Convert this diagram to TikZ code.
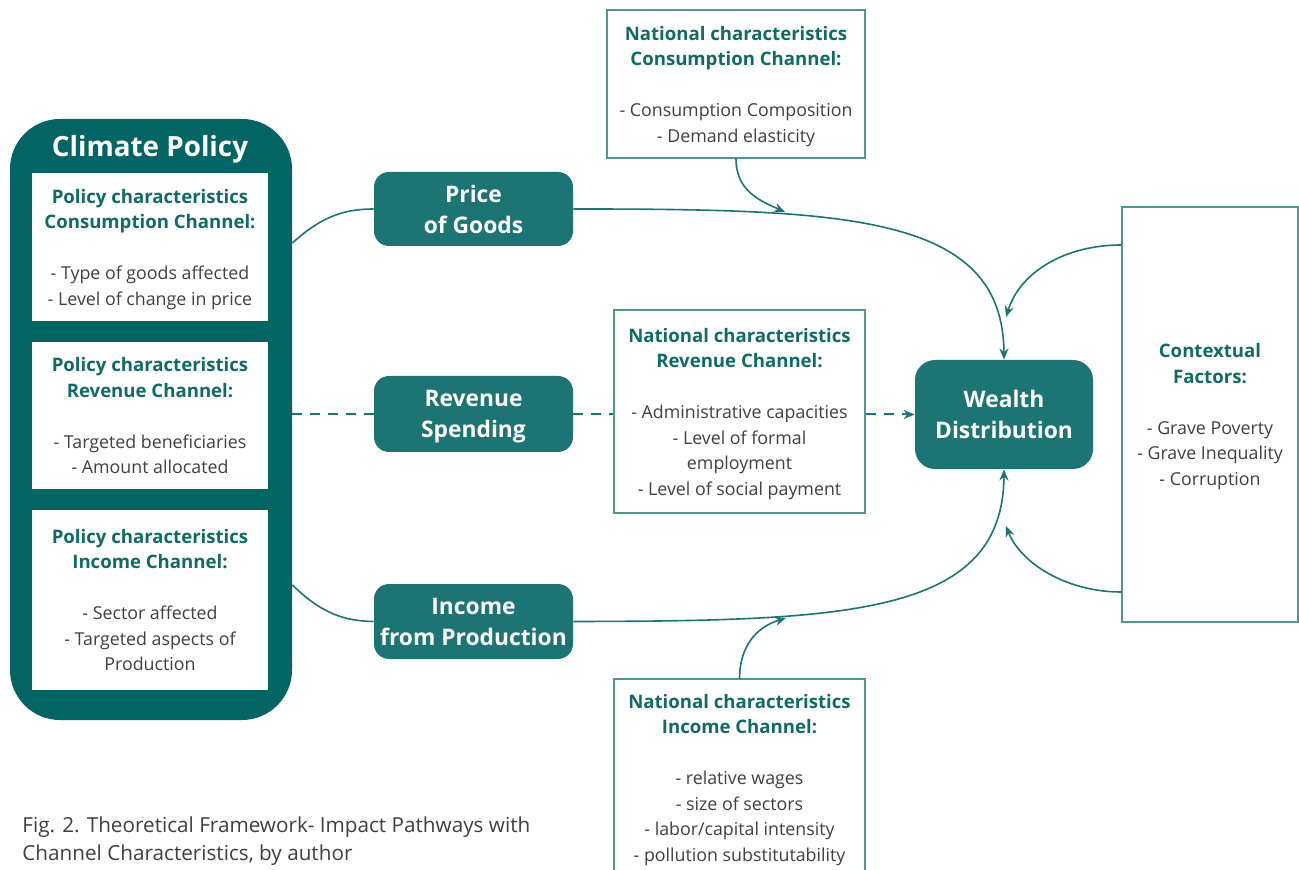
\documentclass[tikz,border=0pt]{standalone}
\usepackage{fontspec}
\setmainfont{Open Sans}
\usetikzlibrary{arrows.meta,calc}
\definecolor{dteal}{RGB}{2,101,99}
\definecolor{mteal}{RGB}{28,117,114}
\definecolor{hteal}{RGB}{16,107,100}
\definecolor{lteal}{RGB}{80,150,145}
\definecolor{txt}{RGB}{64,64,64}
\newcommand\myhd[1]{\textcolor{hteal}{\fontsize{9.3}{12.75}\selectfont\bfseries #1}}
\begin{document}
\begin{tikzpicture}[x=0.5pt,y=-0.5pt,
 conn/.style={draw=mteal, line width=0.8pt},
 arr/.style={-{Stealth[length=5.5pt,width=4.5pt]}},
 dashline/.style={draw=mteal, line width=1pt, dash pattern=on 5pt off 4pt},
 wbox/.style={draw=lteal, line width=0.6pt, fill=white, align=center,
   font=\fontsize{8.9}{12.75}\selectfont, text=txt, inner sep=0pt, text depth=0pt},
 pbox/.style={fill=white, align=center, font=\fontsize{8.9}{12.75}\selectfont,
   text=txt, inner sep=0pt, minimum width=118pt, text depth=0pt},
 tbox/.style={fill=mteal, rounded corners=7.5pt, text=white,
   font=\fontsize{11.4}{15.5}\selectfont\bfseries, align=center,
   minimum width=99.5pt, inner sep=0pt, text depth=0pt},
]
\clip (0,0) rectangle (1299,870);
\fill[white] (0,0) rectangle (1299,870);

% Climate policy block
\node[fill=dteal, rounded corners=25pt, minimum width=141pt, minimum height=300.5pt, inner sep=0pt] (cp) at (151,419.5) {};
\node[text=white, font=\fontsize{13.9}{16}\selectfont\bfseries] (cpt) at (150,149) {Climate Policy};
\node[pbox, minimum height=74pt] (pc1) at (150,247)
 {\myhd{Policy characteristics}\\\myhd{Consumption Channel:}\\[12.75pt]- Type of goods affected\\- Level of change in price};
\node[pbox, minimum height=73.5pt] (pc2) at (150,415.5)
 {\myhd{Policy characteristics}\\\myhd{Revenue Channel:}\\[12.75pt]- Targeted beneficiaries\\- Amount allocated};
\node[pbox, minimum height=90pt] (pc3) at (150,600)
 {\myhd{Policy characteristics}\\\myhd{Income Channel:}\\[12.75pt]- Sector affected\\- Targeted aspects of\\Production};

% channel boxes
\node[tbox, minimum height=37pt] (pg) at (473.5,209) {Price\\of Goods};
\node[tbox, minimum height=38pt] (rs) at (473.5,414) {Revenue\\Spending};
\node[tbox, minimum height=37.5pt] (ip) at (473.5,621.5) {Income\\from Production};
\node[tbox, rounded corners=10pt, minimum width=89pt, minimum height=54.5pt] (wd) at (1004,414.5) {Wealth\\Distribution};

% national characteristics
\node[wbox, minimum width=129pt, minimum height=74pt] (nc) at (736,84)
 {\myhd{National characteristics}\\\myhd{Consumption Channel:}\\[12.75pt]- Consumption Composition\\- Demand elasticity};
\node[wbox, minimum width=125.5pt, minimum height=101.5pt] (nr) at (739.5,411.5)
 {\myhd{National characteristics}\\\myhd{Revenue Channel:}\\[12.75pt]- Administrative capacities\\- Level of formal\\employment\\- Level of social payment};
\node[wbox, minimum width=125.5pt, minimum height=98.5pt] (ni) at (739.5,777.5)
 {\myhd{National characteristics}\\\myhd{Income Channel:}\\[12.75pt]- relative wages\\- size of sectors\\- labor/capital intensity\\- pollution substitutability};
\node[wbox, minimum width=88pt, minimum height=207.5pt] (cf) at (1210,414.5)
 {\myhd{Contextual}\\\myhd{Factors:}\\[12.75pt]- Grave Poverty\\- Grave Inequality\\- Corruption};

% caption
\node[anchor=north west, align=left, inner sep=0pt, font=\fontsize{10.35}{14}\selectfont, text=txt] (cap) at (22,816)
 {Fig. 2. Theoretical Framework- Impact Pathways with\\Channel Characteristics, by author};

% helper coordinates on the curves
\coordinate (a1) at (785,212);
\coordinate (a2) at (786,618);
\coordinate (c1) at (1006,317);
\coordinate (c2) at (1006,526);

% connectors
\draw[conn] ([yshift=88.25pt]cp.east) .. controls (322,216) and (345,209) .. (pg.west);
\draw[conn,arr] (pg.east) .. controls (850,209) and (1003,215) .. (wd.north);
\draw[conn] ([yshift=-82.75pt]cp.east) .. controls (322,614) and (345,621) .. (ip.west);
\draw[conn,arr] (ip.east) .. controls (850,621) and (1003,615) .. (wd.south);
\draw[conn,arr] (nc.south) .. controls (736,190) and (758,200) .. (a1);
\draw[conn,arr] (ni.north) .. controls (740,642) and (760,626) .. (a2);
\draw[conn,arr] ([yshift=84.75pt]cf.west) .. controls (1065,245) and (1020,272) .. (c1);
\draw[conn,arr] ([yshift=-88.75pt]cf.west) .. controls (1065,592) and (1020,562) .. (c2);

% dashed revenue channel
\draw[dashline] (cp.east |- rs.west) -- (rs.west);
\draw[dashline] (rs.east) -- (nr.west |- rs.east);
\draw[dashline,arr] (nr.east |- wd.west) -- (wd.west);
\end{tikzpicture}
\end{document}
